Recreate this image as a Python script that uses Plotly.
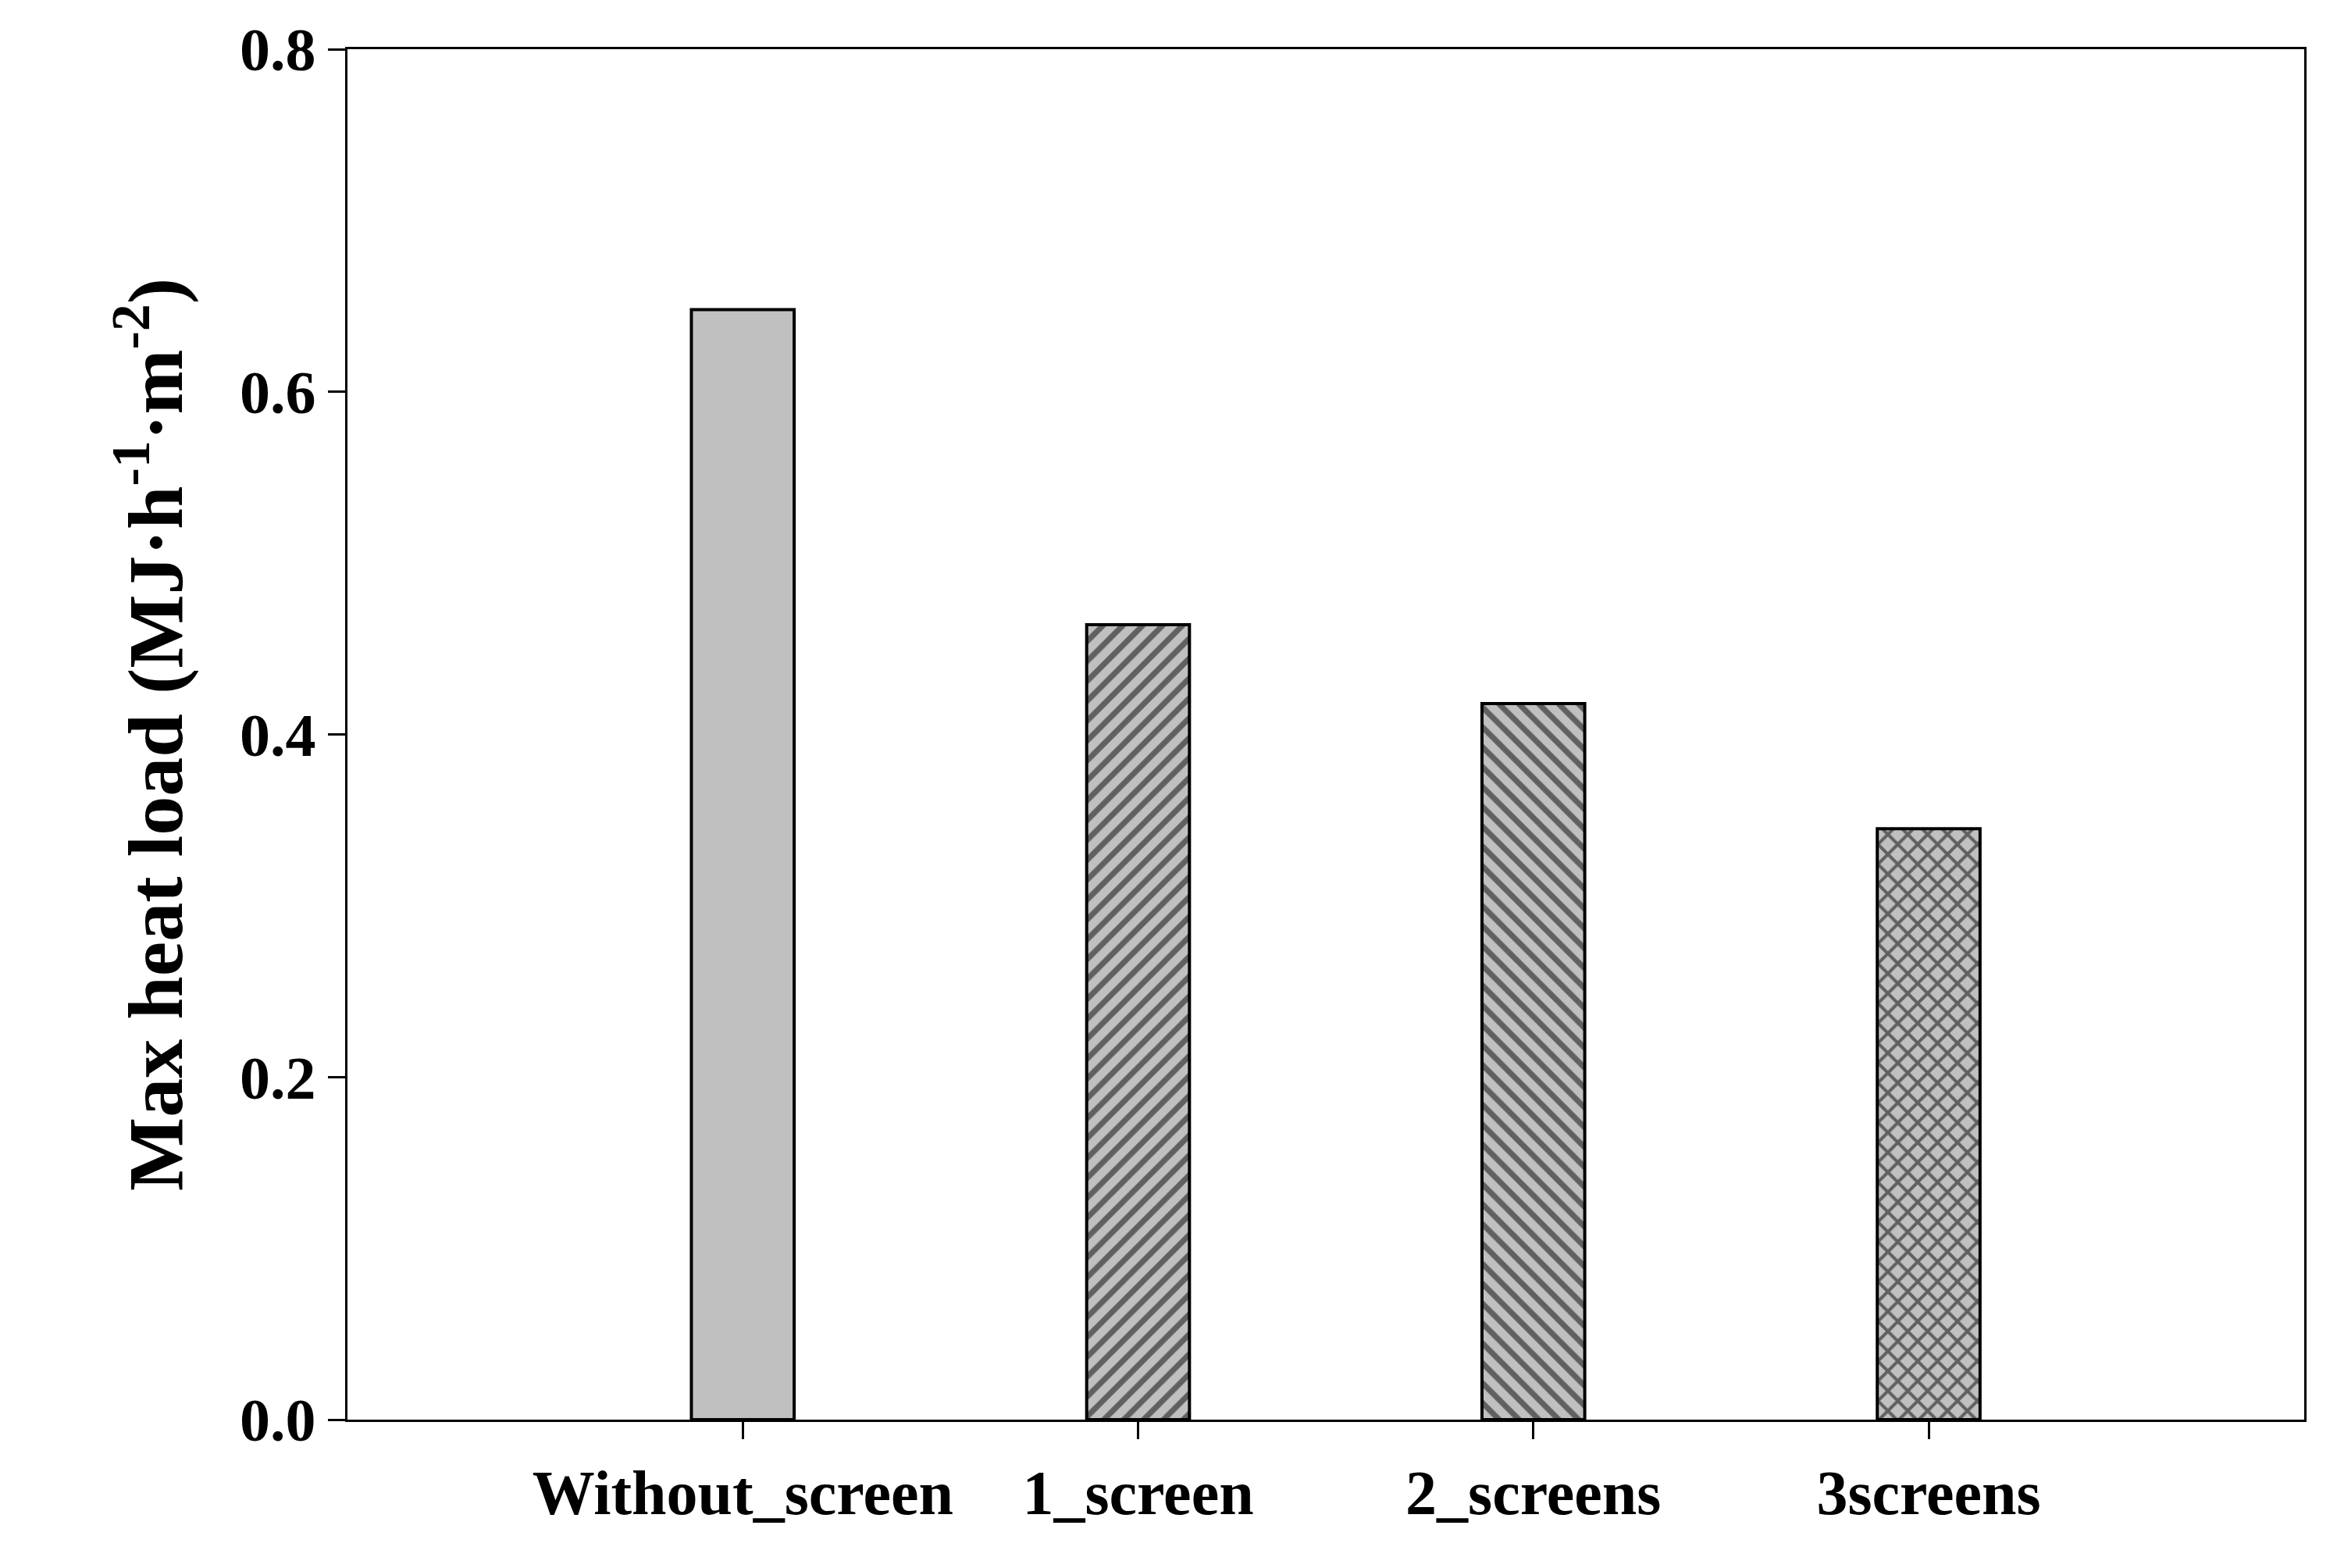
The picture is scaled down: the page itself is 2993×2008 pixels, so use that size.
import plotly.graph_objects as go

categories = ["Without_screen", "1_screen", "2_screens", "3screens"]
values = [0.648, 0.464, 0.418, 0.345]
patterns = ["", "/", "\\", "x"]
positions = [1, 2, 3, 4]

fig = go.Figure()
fig.add_trace(go.Bar(
    x=positions, y=values, width=0.26,
    marker=dict(color="#c0c0c0", line=dict(color="black", width=4),
                pattern=dict(shape=patterns, fgcolor="black", bgcolor="#c0c0c0",
                             size=18, solidity=0.4, fillmode="overlay")),
))
fig.update_layout(
    width=2993, height=2008, plot_bgcolor="white", paper_bgcolor="white",
    margin=dict(l=437, r=50, t=46, b=198), showlegend=False,
    font=dict(family="Liberation Serif", color="black"),
    xaxis=dict(range=[0, 4.95], tickvals=positions,
               ticktext=["<b>%s</b>" % c for c in categories],
               tickfont=dict(size=80, family="Liberation Serif"),
               ticks="outside", ticklen=22, tickwidth=3, tickcolor="black",
               showline=True, linecolor="black", linewidth=3, mirror=True,
               showgrid=False, zeroline=False),
    yaxis=dict(range=[0, 0.8], tickvals=[0, 0.2, 0.4, 0.6, 0.8],
               ticktext=["<b>%.1f</b>" % v for v in [0, 0.2, 0.4, 0.6, 0.8]],
               tickfont=dict(size=78, family="Liberation Serif"),
               ticks="outside", ticklen=22, tickwidth=3, tickcolor="black",
               showline=True, linecolor="black", linewidth=3, mirror=True,
               showgrid=False, zeroline=False,
               title=dict(text="<b>Max heat load (MJ·h<sup>-1</sup>·m<sup>-2</sup>)</b>",
                          font=dict(size=100, family="Liberation Serif"), standoff=40)),
)
fig.write_html("out.html")
